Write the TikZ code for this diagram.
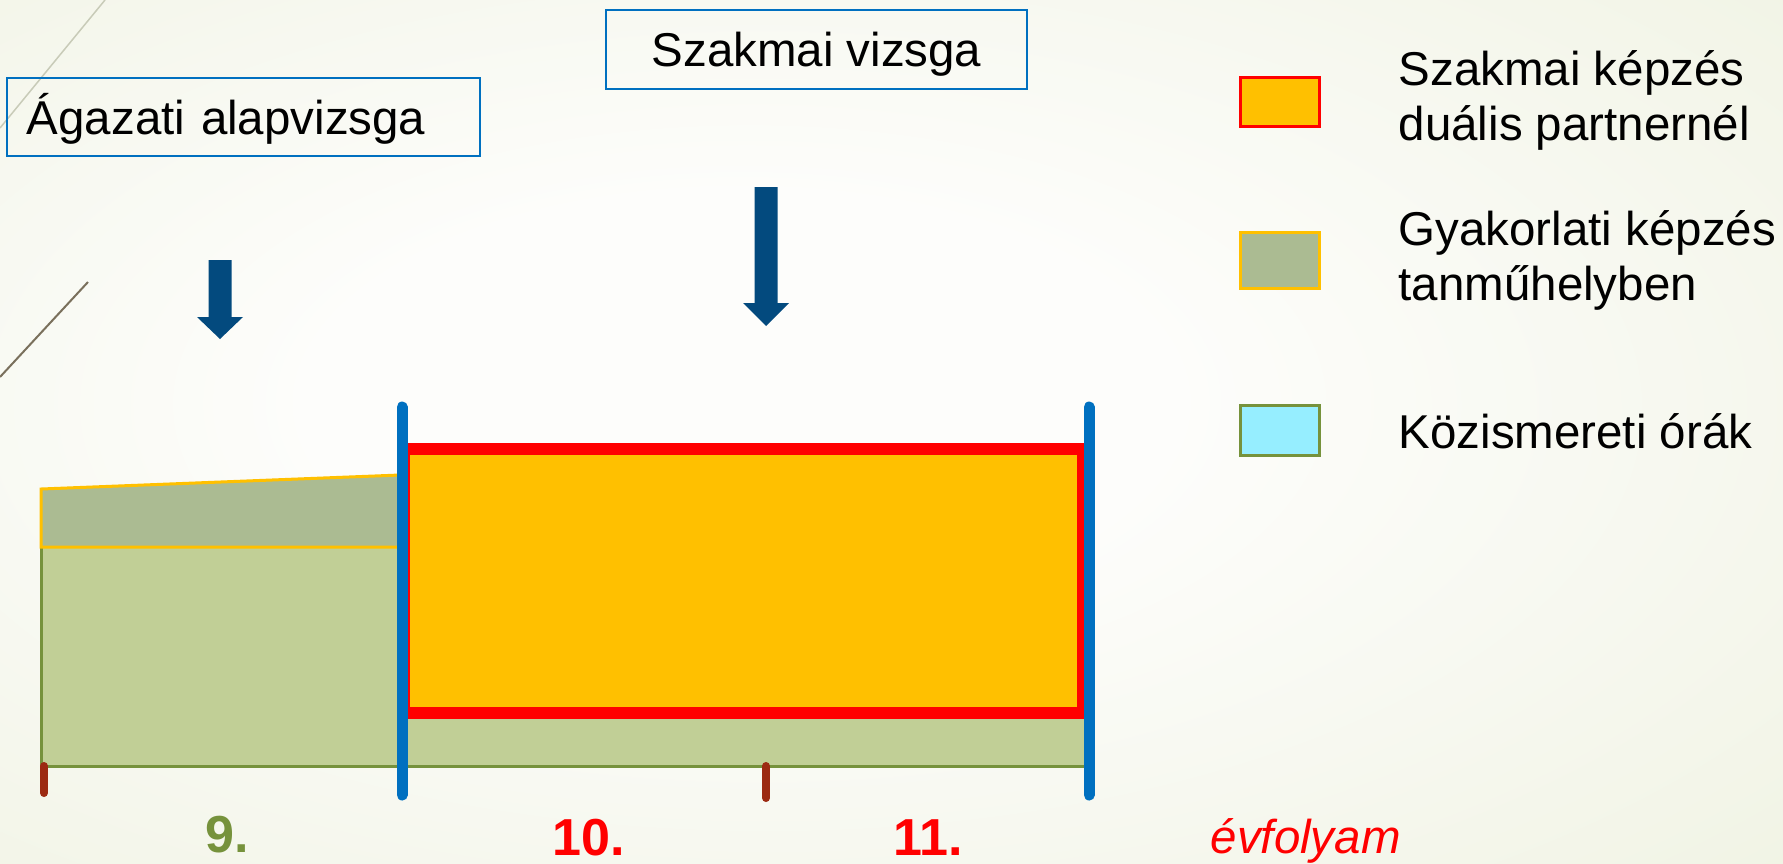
\documentclass[tikz,border=0pt]{standalone}
\usepackage{fontspec}
\setmainfont{Liberation Sans}
\usepackage{tikz}
\usetikzlibrary{positioning}

\definecolor{bgedge}{HTML}{E6EBD1}
\definecolor{bgmid}{HTML}{FDFDFB}
\definecolor{dualfill}{HTML}{FFC000}
\definecolor{grayband}{HTML}{ABBB92}
\definecolor{orangeband}{HTML}{FFC000}
\definecolor{ninegreen}{HTML}{C1CF96}
\definecolor{olivegreen}{HTML}{76923C}
\definecolor{cyanfill}{HTML}{96EEFF}
\definecolor{barblue}{HTML}{0070C0}
\definecolor{tickred}{HTML}{9C2A12}
\definecolor{arrowblue}{HTML}{034A7E}
\definecolor{decoA}{HTML}{C8CBB8}
\definecolor{decoB}{HTML}{7A705C}

\pgfdeclareradialshading{slidebg}{\pgfpoint{-5bp}{2bp}}{color(0bp)=(bgmid); color(12bp)=(bgmid); color(62bp)=(bgedge); color(80bp)=(bgedge)}

\begin{document}
\begin{tikzpicture}[x=0.01cm, y=-0.01cm,
  txt/.style={font=\fontsize{13.5}{15.4}\selectfont, inner sep=0pt},
  exambox/.style={txt, draw=barblue, line width=0.02cm, text height=0.34cm, text depth=0pt},
  yearlbl/.style={font=\fontsize{14.8}{16}\selectfont\bfseries, inner sep=0pt, anchor=base},
  legbox/.style={line width=0.03cm, minimum width=0.79cm, inner sep=0pt}]

\shade[shading=slidebg] (0,0) rectangle (1783,863);
\useasboundingbox (0,0) rectangle (1783,863);

\draw[decoA, line width=0.015cm] (0,128) -- (105,0);
\draw[decoB, line width=0.02cm] (0,377) -- (88,282);

\fill[ninegreen] (41,547) rectangle (402,766);
\fill[ninegreen] (402,713) rectangle (1085,766);
\draw[olivegreen, line width=0.03cm] (41,547) -- (41,766) -- (1085,766);
\filldraw[fill=grayband, draw=orangeband, line width=0.03cm] (41,489) -- (400,475) -- (400,547) -- (41,547) -- cycle;
\filldraw[fill=dualfill, draw=red, line width=0.12cm] (404,449) rectangle (1083,713);

\foreach \x in {402,1089}
	\draw[barblue, line width=0.11cm, line cap=round] (\x,407) -- (\x,795);

\foreach \x/\b in {44/793,766/798}
	\draw[tickred, line width=0.08cm, line cap=round] (\x,766) -- (\x,\b);

\foreach \cx/\top/\neck/\tip in {220/260/317/339, 766/187/303/326}
	\fill[arrowblue] (\cx-11.5,\top) -- (\cx+11.5,\top) -- (\cx+11.5,\neck) -- (\cx+23,\neck)
		-- (\cx,\tip) -- (\cx-23,\neck) -- (\cx-11.5,\neck) -- cycle;

\node[exambox, minimum width=4.21cm, minimum height=0.79cm] (szvizsga) at (816.5,49.5) {Szakmai vizsga};
\node[exambox, minimum height=0.78cm, text width=4.33cm, inner xsep=0.2cm, align=left] (agvizsga) at (243.5,117) {Ágazati alapvizsga};

\node[yearlbl, text=olivegreen] (y9) at (227,852) {9.};
\node[yearlbl, text=red] (y10) at (589,855) {10.};
\node[yearlbl, text=red] (y11) at (928,855) {11.};
\node[txt, anchor=base west, text=red, font=\fontsize{13.5}{15.4}\selectfont\itshape] (evf) at (1210,853) {évfolyam};

\node[legbox, fill=dualfill, draw=red, minimum height=0.48cm] (leg1) at (1280,102) {};
\node[legbox, fill=grayband, draw=orangeband, minimum height=0.55cm] (leg2) at (1280,260.5) {};
\node[legbox, fill=cyanfill, draw=olivegreen, minimum height=0.50cm] (leg3) at (1280,430) {};

\node[txt, anchor=base west, align=left] (leg1txt) at (1398,140) {Szakmai képzés\\duális partnernél};
\node[txt, anchor=base west, align=left] (leg2txt) at (1398,300) {Gyakorlati képzés\\tanműhelyben};
\node[txt, anchor=base west] (leg3txt) at (1398,448) {Közismereti órák};
\end{tikzpicture}
\end{document}
